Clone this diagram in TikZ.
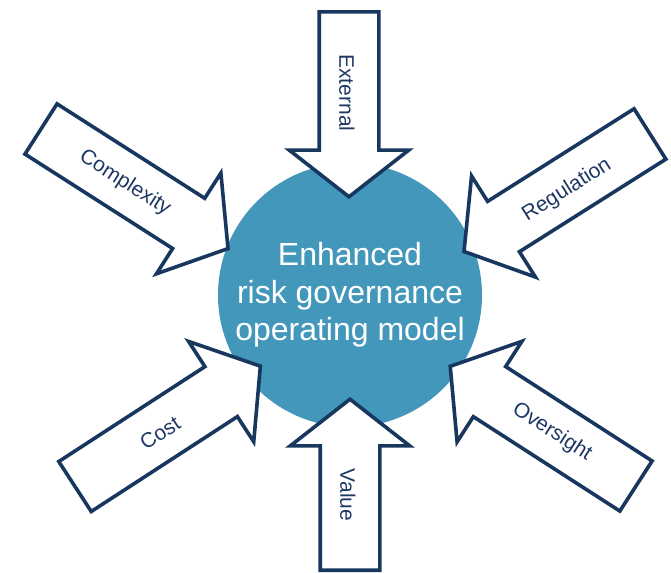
\documentclass[tikz,border=0pt]{standalone}
\usepackage{fontspec}
\setmainfont{Liberation Sans}
\usetikzlibrary{shapes.arrows}

\definecolor{modelblue}{HTML}{4397BA}
\definecolor{arrowline}{HTML}{17375E}
\definecolor{labeltext}{HTML}{1F3864}

\begin{document}
\begin{tikzpicture}[x=0.5pt, y=-0.5pt,
    driver/.style={single arrow, draw=arrowline, fill=white, line width=1.8pt,
        inner sep=0pt, inner ysep=14pt, single arrow head extend=15pt,
        single arrow tip angle=104, anchor=tail},
    driverlabel/.style={text=labeltext, font=\fontsize{10.5}{12}\selectfont}]
    \useasboundingbox (0,0) rectangle (671,573);

    \node[circle, fill=modelblue, minimum size=132pt, inner sep=0pt] (model) at (350,295) {};

    \node[driver, rotate=-90, minimum height=92.5pt] (external) at (349,10) {};
    \node[driver, rotate=90, minimum height=85.5pt] (value) at (350,572) {};
    \node[driver, rotate=-32.6, minimum height=111pt] (complexity) at (39.5,128) {};
    \node[driver, rotate=-147.7, minimum height=110pt] (regulation) at (651.5,133) {};
    \node[driver, rotate=33, minimum height=110.5pt] (cost) at (73.5,487.5) {};
    \node[driver, rotate=147.2, minimum height=110.5pt] (oversight) at (637.5,487) {};

    \node[driverlabel, rotate=-90] (externaltext) at (347,93) {External};
    \node[driverlabel, rotate=-90] (valuetext) at (348,495) {Value};
    \node[driverlabel, rotate=-32.6] (complexitytext) at (125,183) {Complexity};
    \node[driverlabel, rotate=32.3] (regulationtext) at (567,190) {Regulation};
    \node[driverlabel, rotate=33] (costtext) at (160,433) {Cost};
    \node[driverlabel, rotate=-32.8] (oversighttext) at (552,432) {Oversight};

    \node[text=white, align=center, font=\fontsize{16}{18.75}\selectfont] (modeltext) at (model) {Enhanced\\risk governance\\operating model};
\end{tikzpicture}
\end{document}
